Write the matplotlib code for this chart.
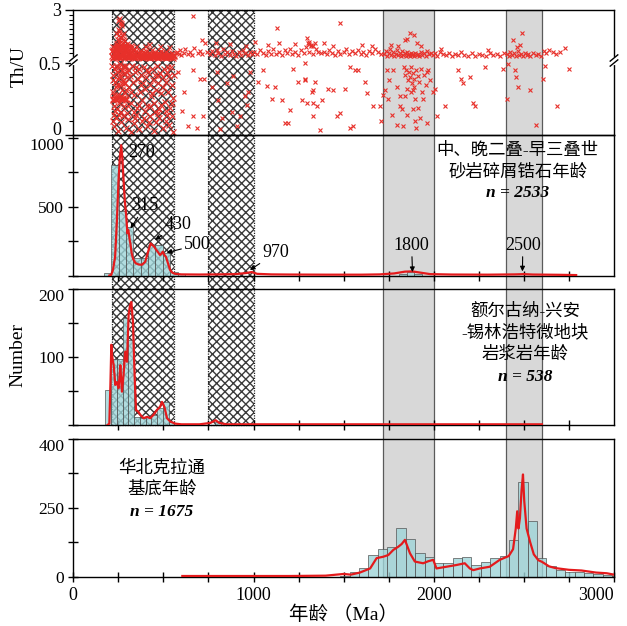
import numpy as np
import matplotlib
matplotlib.use('Agg')
import matplotlib.pyplot as plt
from matplotlib.patches import Rectangle
from matplotlib import transforms

plt.rcParams['font.family'] = ['Liberation Serif', 'Noto Sans CJK SC']
plt.rcParams['hatch.linewidth'] = 1.0
plt.rcParams['axes.linewidth'] = 1.0

# ---------------- data ----------------
# Th/U scatter: (age Ma, Th/U)
thu_band = [(216,0.60),(220,0.92),(223,0.55),(227,0.78),(230,1.02),(234,0.63),(237,0.85),(241,0.57),(244,0.95),(248,0.7),
            (251,0.53),(255,0.88),(258,0.66),(262,1.05),(265,0.58),(269,0.8),(272,0.62),(276,0.97),(279,0.55),(283,0.74),
            (286,0.9),(290,0.6),(293,0.82),(297,0.56),(300,0.7),(304,0.93),(307,0.61),(311,0.76),(314,0.54),(318,0.86),
            (321,0.65),(325,0.58),(328,0.79),(332,0.6),(335,0.9),(339,0.55),(342,0.7),(346,0.63),(349,0.84),(353,0.57),
            (356,0.68),(360,0.6),(363,0.77),(367,0.54),(370,0.88),(374,0.62),(377,0.7),(381,0.56),(384,0.8),(388,0.6),
            (391,0.66),(395,0.55),(398,0.74),(402,0.61),(405,0.85),(409,0.57),(412,0.68),(416,0.6),(419,0.78),(423,0.55),
            (426,0.65),(430,0.72),(433,0.58),(437,0.9),(440,0.62),(444,0.55),(447,0.7),(451,0.6),(454,0.8),(458,0.56),
            (461,0.66),(465,0.59),(468,0.75),(472,0.55),(475,0.63),(479,0.7),(482,0.57),(486,0.85),(489,0.6),(493,0.55),
            (496,0.68),(500,0.62),(503,0.74),(507,0.56),(510,0.64),(514,0.58),(517,0.8),(521,0.6),(524,0.55),(528,0.7),
            (531,0.62),(535,0.57),(538,0.66),(542,0.6),(545,0.74),(549,0.56),(552,0.63),(556,0.58),(559,0.68),
            (218,0.52),(229,0.57),(239,0.53),(250,0.59),(260,0.52),(271,0.56),(281,0.53),(292,0.58),(302,0.52),(313,0.57),
            (323,0.53),(334,0.56),(344,0.52),(355,0.59),(365,0.53),(376,0.57),(386,0.52),(397,0.58),(407,0.53),(418,0.56),
            (428,0.52),(439,0.57),(449,0.53),(460,0.55),(470,0.52),(481,0.58),(491,0.53),(502,0.56),(512,0.52),(523,0.57),
            (533,0.53),(544,0.55),(554,0.52),
            (222,1.08),(233,0.98),(245,1.1),(256,0.99),(267,1.08),(278,1.0),(289,1.06),(300,0.98),(215,0.85),(226,0.7),
            (247,0.82),(268,0.72),(288,0.97),(310,0.88),(322,1.0),(260,0.9),(240,0.75)]

thu_spike = [(232,1.15),(236,1.3),(240,1.5),(244,1.2),(248,1.7),(250,2.0),(252,1.35),(255,1.9),(258,2.4),(260,1.15),
             (262,1.6),(266,2.2),(270,1.3),(274,1.8),(278,1.12),(282,1.45),(288,1.25),(295,1.15),(305,1.1),(320,1.2),
             (246,2.5),(256,2.6),(264,2.3),(238,1.8),(242,1.1),(254,1.45),(268,1.7),(276,1.5),(284,1.2),(300,1.3),
             (350,1.15),(400,1.1),(420,1.25),(480,1.12),(530,1.05)]

thu_low = [(216,0.48),(220,0.3),(223,0.42),(226,0.2),(229,0.37),(232,0.46),(235,0.25),(238,0.33),(241,0.44),(244,0.18),
           (247,0.39),(250,0.28),(253,0.47),(256,0.22),(259,0.35),(262,0.41),(265,0.16),(268,0.31),(271,0.45),(274,0.26),
           (277,0.38),(280,0.2),(283,0.43),(286,0.29),(289,0.36),(292,0.48),(295,0.24),(298,0.4),(218,0.38),(227,0.28),
           (236,0.48),(245,0.35),(254,0.4),(263,0.27),(272,0.36),(281,0.47),(290,0.31),(299,0.44),(222,0.24),(233,0.17),
           (251,0.14),(266,0.43),(284,0.36),(240,0.27),(257,0.49),(275,0.48),
           (222,0.25),(230,0.252),(238,0.248),(246,0.25),(254,0.255),(262,0.25),(270,0.248),(278,0.25),(286,0.252),(294,0.25),
           (218,0.1),(225,0.06),(236,0.12),(248,0.03),(262,0.09),(275,0.13),(290,0.05),(305,0.11),(322,0.02),(338,0.08),
           (350,0.14),(366,0.04),(380,0.1),(395,0.12),(410,0.06),(428,0.13),(445,0.03),(460,0.09),(478,0.12),(495,0.05),
           (512,0.1),(530,0.07),(548,0.13),(555,0.02),(520,0.14),(470,0.15),(420,0.09),(342,0.12),(228,0.14),(300,0.15),
           (303,0.45),(309,0.33),(315,0.41),(321,0.22),(327,0.48),(333,0.37),(339,0.28),(345,0.44),(351,0.19),(357,0.39),
           (363,0.46),(369,0.3),(375,0.42),(381,0.24),(387,0.36),(393,0.47),(399,0.32),(405,0.4),(411,0.2),(417,0.44),
           (423,0.35),(429,0.27),(435,0.46),(441,0.38),(447,0.22),(453,0.42),(459,0.31),(465,0.48),(471,0.36),(477,0.18),
           (483,0.43),(489,0.29),(495,0.4),(501,0.46),(507,0.23),(513,0.37),(519,0.44),(525,0.3),(531,0.41),(537,0.19),
           (543,0.47),(549,0.35),(555,0.26),(560,0.42),(318,0.3),(348,0.47),(378,0.35),(408,0.45),(438,0.29),(468,0.41),
           (498,0.33),(528,0.47),(306,0.2),(336,0.16),(366,0.21),(396,0.17),(426,0.2),(456,0.16),(486,0.21),(516,0.17),
           (546,0.22)]

thu_scatter = [(568,0.75),(575,0.82),(584,0.7),(592,0.9),(600,0.68),(612,0.78),(622,0.95),(635,0.72),(648,0.8),(660,0.66),
               (672,1.0),(690,0.76),(702,0.85),(715,0.7),(728,1.3),(740,0.8),(665,2.69),(712,1.44),
               (583,0.44),(666,0.45),(703,0.39),(725,0.39),(601,0.17),(666,0.13),(638,0.06),(688,0.05),(720,0.13),(615,0.3),
               (760,0.7),(772,0.85),(785,0.66),(795,0.9),(805,0.75),(818,0.62),(830,0.95),(842,0.7),(855,0.8),(868,0.65),
               (880,0.88),(893,0.72),(905,0.6),(918,0.82),(930,0.68),(942,0.9),(955,0.75),(968,0.64),(980,0.8),(992,0.7),
               (870,1.25),(790,1.3),(960,1.1),
               (795,0.44),(804,0.24),(823,0.12),(888,0.41),(925,0.13),(952,0.27),(962,0.21),(980,0.44),(971,0.3),(851,0.36),
               (882,0.16),(906,0.06),(814,0.04),(770,0.33),
               (1005,0.8),(1020,0.7),(1035,0.9),(1050,0.75),(1068,0.65),(1080,0.85),(1095,0.72),(1110,0.95),(1125,0.7),
               (1140,0.8),(1158,0.66),(1172,0.9),(1188,0.75),(1200,0.98),(1215,0.7),(1230,0.82),(1248,0.68),(1262,0.9),
               (1278,0.76),(1290,1.05),(1305,0.8),(1318,1.1),(1330,0.72),(1345,0.95),(1360,0.82),(1340,1.3),(1080,1.2),
               (1128,2.05),(1008,1.35),(1140,1.28),(1230,1.25),
               (1026,0.37),(1054,0.45),(1073,0.34),(1100,0.25),(1119,0.33),(1156,0.24),(1174,0.08),(1193,0.08),(1202,0.175),
               (1220,0.46),(1248,0.37),(1267,0.24),(1285,0.39),(1322,0.3),(1331,0.13),(1350,0.2),(1285,0.5),
               (1375,0.75),(1392,0.82),(1405,0.7),(1420,0.9),(1435,0.78),(1450,0.68),(1468,0.85),(1482,0.72),(1500,0.8),
               (1515,0.95),(1530,0.7),(1548,0.85),(1562,0.76),(1580,0.9),(1595,0.72),(1610,0.8),(1625,0.68),(1642,0.85),
               (1658,0.75),(1672,0.95),(1690,0.8),(1705,0.72),(1479,2.32),(1440,1.1),(1600,1.2),(1660,1.15),(1390,1.3),
               (1300,1.3),(1310,1.25),(1320,1.2),(1330,1.15),(1305,1.35),(1295,1.55),
               (1285,0.38),(1340,0.37),(1294,0.22),(1331,0.31),(1378,0.24),(1414,0.32),(1442,0.31),(1461,0.13),(1479,0.15),
               (1507,0.32),(1535,0.47),(1562,0.45),(1581,0.45),(1618,0.37),(1627,0.29),(1664,0.2),(1701,0.2),(1710,0.1),
               (1553,0.06),(1535,0.05),(1368,0.035),(1331,0.22),
               (1725,0.7),(1735,0.85),(1742,0.62),(1750,0.78),(1758,0.95),(1765,0.66),(1772,0.8),(1780,0.58),(1788,0.72),
               (1795,0.9),(1802,0.64),(1810,0.77),(1818,0.6),(1825,0.85),(1832,0.68),(1838,0.74),(1845,0.62),(1850,0.8),
               (1856,0.66),(1862,0.72),(1868,0.6),(1874,0.78),(1880,0.65),(1886,0.7),(1892,0.62),(1898,0.76),(1905,0.66),
               (1912,0.72),(1920,0.6),(1928,0.8),(1936,0.68),(1945,0.74),(1955,0.62),(1965,0.85),(1975,0.7),(1985,0.78),
               (1995,0.64),(1867,1.8),(1888,1.7),(1843,1.45),(1854,1.5),(1760,1.2),(1905,1.3),(1930,1.15),(1800,1.1),
               (1835,0.47),(1842,0.42),(1848,0.45),(1855,0.38),(1860,0.44),(1866,0.4),(1872,0.47),(1878,0.36),(1885,0.43),
               (1892,0.39),(1900,0.45),(1910,0.41),(1920,0.37),(1930,0.46),(1945,0.42),(1955,0.35),(1965,0.44),(1850,0.32),
               (1875,0.3),(1890,0.33),
               (1738,0.45),(1729,0.31),(1720,0.28),(1794,0.33),(1775,0.45),(1812,0.27),(1766,0.14),(1812,0.2),(1840,0.27),
               (1822,0.18),(1849,0.14),(1886,0.18),(1914,0.19),(1895,0.25),(1886,0.31),(1932,0.3),(1942,0.25),(1794,0.07),
               (1831,0.06),(1895,0.1),(1900,0.05),(1960,0.08),(1923,0.12),(1752,0.38),(1968,0.45),(1979,0.38),(1748,0.25),
               (2005,0.75),(2020,0.62),(2035,0.8),(2050,0.7),(2068,0.66),(2085,0.78),(2100,0.6),(2118,0.72),(2135,0.64),
               (2152,0.8),(2170,0.68),(2190,0.6),(2210,0.75),(2230,0.62),(2250,0.7),(2268,0.66),(2290,0.6),(2310,0.74),
               (2330,0.65),(2350,0.7),(2370,0.62),(2390,0.78),(2040,0.95),(2300,0.9),
               (2006,0.32),(1997,0.3),(2061,0.2),(2016,0.13),(2135,0.45),(2153,0.39),(2160,0.36),(2200,0.4),(2219,0.22),
               (2227,0.2),(2283,0.47),(2385,0.46),
               (2405,0.7),(2415,0.62),(2425,0.8),(2435,0.68),(2445,0.75),(2455,0.6),(2465,0.85),(2475,0.66),(2485,0.72),
               (2495,0.6),(2505,0.78),(2515,0.65),(2525,0.7),(2535,0.62),(2550,0.74),(2565,0.66),(2580,0.7),(2595,0.62),
               (2441,1.45),(2478,1.2),(2492,1.8),(2460,1.05),
               (2413,0.49),(2459,0.4),(2469,0.33),(2404,0.25),(2533,0.31),(2566,0.07),(2450,0.45),
               (2610,0.85),(2625,0.75),(2640,0.9),(2660,0.8),(2700,0.82),(2727,1.0),(2680,0.7),
               (2607,0.39),(2616,0.48),(2681,0.2),(2751,0.46)]

# panel 2: Middle-Late Permian - Early Triassic detrital zircons (n = 2533)
p2_bin_left = [169, 210, 251, 292, 333, 374, 415, 456, 497, 538, 579, 1809, 1850, 1891]
p2_counts = [15, 800, 470, 354, 127, 127, 221, 221, 163, 29, 10, 12, 25, 12]
p2_kde_age = [200, 210, 220, 232, 242, 251, 258, 266, 272, 279, 286, 294, 300, 305, 309, 313, 317, 324, 332, 345,
              362, 381, 399, 410, 418, 429, 440, 449, 458, 468, 481, 490, 496, 505, 514, 525, 537, 550, 565, 600,
              700, 800, 900, 960, 990, 1020, 1100, 1200, 1400, 1600, 1700, 1780, 1840, 1880, 1920, 1980, 2100, 2300,
              2450, 2500, 2550, 2700, 2790]
p2_kde_val = [0, 5, 40, 136, 400, 692, 850, 946, 850, 692, 540, 426, 306, 330, 300, 257, 230, 161, 120, 90,
              80, 78, 100, 150, 185, 233, 220, 209, 190, 173, 149, 160, 173, 150, 136, 90, 40, 20, 12, 8,
              7, 8, 10, 18, 25, 12, 8, 7, 6, 6, 8, 15, 28, 30, 22, 10, 7, 6, 8, 10, 7, 5, 3]

# panel 3: Erguna-Xing'an-Xilinhot magmatic rocks (n = 538)
p3_bin_left = [177, 209, 241, 273, 305, 337, 369, 401, 433, 465, 497, 529, 785]
p3_counts = [52, 97, 97, 157, 125, 12, 10, 12, 15, 25, 34, 5, 5]
p3_kde_age = [190, 200, 206, 211, 216, 224, 233, 242, 251, 256, 261, 266, 270, 279, 288, 298, 307, 314, 322, 331,
              340, 348, 359, 372, 390, 409, 427, 445, 464, 482, 492, 500, 507, 520, 538, 566, 600, 700, 760, 790,
              810, 850, 1000, 1500, 2000, 2600]
p3_kde_val = [0, 2, 60, 118, 100, 88, 59, 63, 54, 70, 88, 65, 49, 74, 108, 93, 162, 175, 181, 152,
              74, 22, 20, 15, 10, 12, 10, 15, 22, 27, 34, 30, 25, 10, 5, 2, 1, 1, 3, 7,
              3, 1, 1, 1, 1, 1]

# panel 4: North China Craton basement (n = 1675)
p4_bin_left = [1481, 1533, 1585, 1637, 1689, 1741, 1793, 1845, 1897, 1949, 2001, 2053, 2105, 2157, 2209, 2261,
               2313, 2365, 2417, 2469, 2521, 2573, 2625, 2677, 2729, 2781, 2833, 2885, 2937, 2989]
p4_counts = [3, 15, 25, 62, 80, 86, 141, 110, 68, 57, 41, 41, 55, 57, 34, 43,
             55, 60, 107, 274, 163, 54, 31, 20, 15, 14, 10, 8, 5, 3]
p4_kde_age = [605, 900, 1200, 1400, 1460, 1500, 1540, 1590, 1647, 1683, 1720, 1748, 1776, 1803, 1822, 1840, 1868,
              1895, 1941, 1970, 1997, 2015, 2071, 2126, 2172, 2200, 2219, 2256, 2311, 2366, 2416, 2440, 2455, 2463,
              2470, 2478, 2487, 2495, 2502, 2515, 2535, 2555, 2580, 2601, 2640, 2675, 2750, 2820, 2900, 2960, 3000]
p4_kde_val = [2, 2, 2, 3, 6, 8, 6, 12, 24, 54, 58, 63, 78, 87, 95, 107, 68,
              44, 39, 45, 49, 24, 29, 34, 39, 24, 19, 24, 29, 49, 60, 80, 140, 190,
              140, 170, 250, 297, 220, 140, 100, 65, 48, 43, 30, 25, 20, 18, 12, 10, 6]

hatch_zones = [(215, 560), (750, 1000)]
gray_zones = [(1720, 2000), (2400, 2600)]

# ---------------- figure ----------------
W, H = 627, 626
fig = plt.figure(figsize=(W / 100, H / 100), dpi=100)
fig.patch.set_facecolor('white')

def box(top, bottom, left=73.3, right=614.0):
    return [left / W, 1 - bottom / H, (right - left) / W, (bottom - top) / H]

ax1 = fig.add_axes(box(10, 135))
ax2 = fig.add_axes(box(135, 275.5))
ax3 = fig.add_axes(box(289, 425))
ax4 = fig.add_axes(box(439, 576.7))
axes = [ax1, ax2, ax3, ax4]

red = '#e8302a'
teal = '#9fd5d9'

for ax in axes:
    ax.set_facecolor('none')
    ax.set_xlim(0, 3000)

# shaded zones spanning the panels
trans = transforms.blended_transform_factory(ax4.transData, fig.transFigure)
y_top = 1 - 10 / H
y_hatch_bot = 1 - 425 / H
y_gray_bot = 1 - 576.7 / H
for a, b in hatch_zones:
    fig.add_artist(Rectangle((a, y_hatch_bot), b - a, y_top - y_hatch_bot, transform=trans,
                             facecolor='white', edgecolor='#3a3a3a', hatch='xxxx', lw=0, zorder=-2))
    fig.add_artist(Rectangle((a, y_hatch_bot), b - a, y_top - y_hatch_bot, transform=trans,
                             fill=False, edgecolor='#222222', lw=0.9, linestyle=(0, (1, 1)), zorder=-1))
for a, b in gray_zones:
    fig.add_artist(Rectangle((a, y_gray_bot), b - a, y_top - y_gray_bot, transform=trans,
                             facecolor='#d8d8d8', edgecolor='#5a5a5a', lw=0.9, zorder=-2))

# ---------- top panel: Th/U with broken axis ----------
GAP = 5 / 144.0
K = 19.2 / 144.0

def fwd(v):
    v = np.asarray(v, dtype=float)
    return np.where(v <= 0.5, v, 0.5 + GAP + (v - 0.5) * K)

def inv(t):
    t = np.asarray(t, dtype=float)
    return np.where(t <= 0.5, t, np.where(t < 0.5 + GAP, 0.5, 0.5 + (t - 0.5 - GAP) / K))

ax1.set_yscale('function', functions=(fwd, inv))
ax1.set_ylim(0, 3)
for pts, ms in [(thu_scatter, 3.2), (thu_low, 3.8), (thu_spike, 3.6), (thu_band, 4.2)]:
    arr = np.array(pts)
    ax1.plot(arr[:, 0], arr[:, 1], linestyle='none', marker='x', ms=ms, mew=0.8, color=red)
ax1.set_yticks([0, 0.5, 3])
ax1.set_yticklabels(['0', '0.5', '3'])
ax1.get_yticklabels()[0].set_va('baseline')
ax1.set_yticks([0.1, 0.2, 0.3, 0.4] + [0.75, 1.0, 1.25, 1.5, 1.75, 2.0, 2.25, 2.5, 2.75], minor=True)
ax1.tick_params(axis='y', which='major', direction='out', length=6, width=1, labelsize=13, pad=3)
ax1.tick_params(axis='y', which='minor', direction='out', length=3, width=0.8)
ax1.set_xticks([])
ax1.set_ylabel('Th/U', fontsize=14)
ax1.yaxis.set_label_coords(-0.084, 0.55)

# break marks
t_lo = 0.5 / fwd(3.0)
t_hi = (0.5 + GAP) / fwd(3.0)
for x in (0, 1):
    ax1.plot([x, x], [t_lo + 0.004, t_hi - 0.004], transform=ax1.transAxes, color='white', lw=3,
             clip_on=False, zorder=6)
    for yy in (t_lo, t_hi):
        ax1.plot([x - 0.007, x + 0.007], [yy - 0.025, yy + 0.025], transform=ax1.transAxes,
                 color='black', lw=1.0, clip_on=False, zorder=7)

# ---------- histogram panels ----------
def hist_panel(ax, left, counts, width, kde_age, kde_val):
    ax.bar(left, counts, width=width, align='edge', color=teal, alpha=0.8,
           edgecolor='#4d4d4d', linewidth=0.6, zorder=2)
    ax.plot(kde_age, kde_val, color='#e41a1c', lw=1.6, zorder=3)
    ax.set_xticks(np.arange(250, 2751, 250))
    ax.set_xticklabels([])
    ax.tick_params(direction='inout', length=7, width=1, labelsize=12.5, pad=3)

hist_panel(ax2, p2_bin_left, p2_counts, 41, p2_kde_age, p2_kde_val)
hist_panel(ax3, p3_bin_left, p3_counts, 32, p3_kde_age, p3_kde_val)
hist_panel(ax4, p4_bin_left, p4_counts, 52, p4_kde_age, p4_kde_val)

ax2.set_ylim(0, 1020)
ax2.set_yticks([0, 250, 500, 750, 1000])
ax2.set_yticklabels(['', '', '500', '', '1000'])
ax3.set_ylim(0, 200)
ax3.set_yticks([0, 50, 100, 150, 200])
ax3.set_yticklabels(['', '', '100', '', '200'])
ax4.set_ylim(0, 400)
ax4.set_yticks([0, 100, 200, 300, 400])
ax4.set_yticklabels(['0', '', '250', '', '400'])
for ax in (ax2, ax3, ax4):
    ax.get_yticklabels()[-1].set_va('top')

ax4.set_xticks([0, 1000, 2000, 3000])
ax4.set_xticklabels(['0', '1000', '2000', '3000'])
ax4.get_xticklabels()[-1].set_ha('right')
ax4.set_xticks(np.arange(250, 2751, 250), minor=True)
ax4.tick_params(axis='x', which='both', direction='inout', length=7, width=1, labelsize=13, pad=4)
ax4.set_xlabel('年龄 （Ma）', fontsize=14, labelpad=1)

fig.text(18 / W, 1 - 355 / H, 'Number', rotation=90, fontsize=14, ha='center', va='center')

# annotations on panel 2
ann = dict(fontsize=13, ha='center', va='center')
arrow = dict(arrowstyle='-|>', color='black', lw=0.8, mutation_scale=7, shrinkA=0, shrinkB=0)
ax2.text(381, 895, '270', **ann)
ax2.annotate('315', xy=(318, 343), xytext=(398, 505), arrowprops=arrow, **ann)
ax2.annotate('430', xy=(453, 258), xytext=(581, 367), arrowprops=arrow, **ann)
ax2.annotate('500', xy=(518, 166), xytext=(689, 222), arrowprops=arrow, **ann)
ax2.annotate('970', xy=(980, 40), xytext=(1124, 164), arrowprops=arrow, **ann)
ax2.annotate('1800', xy=(1882, 25), xytext=(1877, 218), arrowprops=arrow, **ann)
ax2.annotate('2500', xy=(2492, 30), xytext=(2494, 218), arrowprops=arrow, **ann)

nstyle = dict(fontsize=12.5, ha='center', va='center', style='italic', weight='bold')

for ax, lines, xc, ys in [
        (ax2, ['中、晚二叠-早三叠世', '砂岩碎屑锆石年龄', 'n = 2533'], 0.822, [0.893, 0.737, 0.587]),
        (ax3, ['额尔古纳-兴安', '-锡林浩特微地块', '岩浆岩年龄', 'n = 538'], 0.835, [0.831, 0.676, 0.515, 0.353]),
        (ax4, ['华北克拉通', '基底年龄', 'n = 1675'], 0.164, [0.789, 0.630, 0.470])]:
    for txt, yy in zip(lines, ys):
        if txt.startswith('n ='):
            ax.text(xc, yy, txt, transform=ax.transAxes, **nstyle)
        else:
            ax.text(xc, yy, txt, transform=ax.transAxes, fontsize=12.5, ha='center', va='center')

fig.savefig('out.png', dpi=100)
